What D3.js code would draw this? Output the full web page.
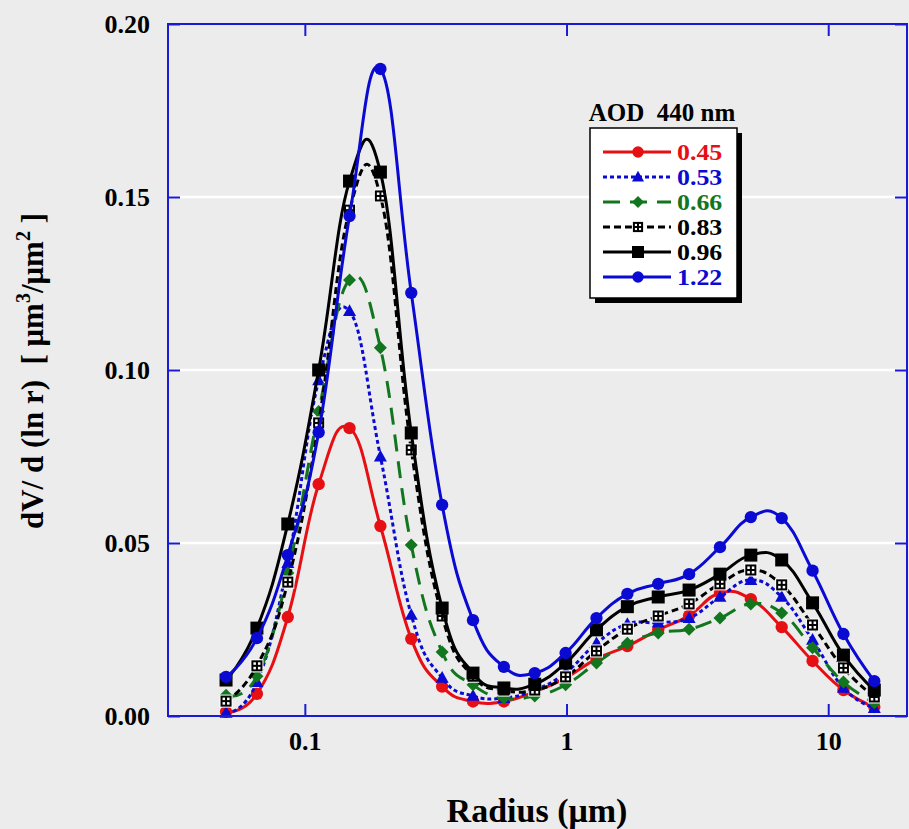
<!DOCTYPE html>
<html>
<head>
<meta charset="utf-8">
<script src="https://cdn.jsdelivr.net/npm/d3@7/dist/d3.min.js"></script>
<style>
  body { margin: 0; background: #ececec; }
  svg { display: block; }
  text { font-family: "Liberation Serif", "Times New Roman", serif; font-weight: bold; white-space: pre; }
</style>
</head>
<body>
<div id="chart"></div>
<script>
// AERONET size bins (um)
var radii = [0.05, 0.065604, 0.086077, 0.112939, 0.148184, 0.194429, 0.255105, 0.334716,
             0.439173, 0.576227, 0.756052, 0.991996, 1.301571, 1.707757, 2.240702, 2.939966,
             3.857452, 5.06126, 6.640745, 8.713145, 11.432287, 15.0];

var aodLabels = ["0.45", "0.53", "0.66", "0.83", "0.96", "1.22"];

var v045 = [0.0012, 0.0064, 0.0286, 0.067, 0.0832, 0.0549, 0.0223, 0.0085, 0.0042, 0.0042, 0.007,
            0.011, 0.0165, 0.0202, 0.0249, 0.029, 0.0356, 0.0338, 0.0257, 0.0159, 0.0075, 0.0026];
var v053 = [0.0009, 0.0098, 0.0442, 0.097, 0.117, 0.075, 0.0292, 0.011, 0.0058, 0.0052, 0.0075,
            0.0125, 0.021, 0.0266, 0.027, 0.0283, 0.0344, 0.0393, 0.0344, 0.022, 0.0081, 0.0023];
var v066 = [0.006, 0.0115, 0.0413, 0.088, 0.126, 0.1064, 0.0494, 0.0185, 0.009, 0.0052, 0.0058,
            0.009, 0.0153, 0.021, 0.024, 0.0251, 0.0283, 0.0324, 0.0298, 0.0197, 0.0098, 0.0038];
var v083 = [0.0043, 0.0145, 0.0387, 0.0847, 0.1462, 0.1503, 0.0769, 0.0289, 0.0115, 0.0075, 0.0075,
            0.0113, 0.0188, 0.0251, 0.0289, 0.0324, 0.0382, 0.0422, 0.0379, 0.0263, 0.0139, 0.0055];
var v096 = [0.0104, 0.0254, 0.0555, 0.1, 0.1546, 0.1572, 0.0818, 0.0312, 0.0124, 0.0081, 0.0092,
            0.0153, 0.0249, 0.0316, 0.0344, 0.0364, 0.041, 0.0465, 0.0451, 0.0327, 0.0176, 0.0075];
var v122 = [0.0113, 0.0225, 0.0465, 0.082, 0.1445, 0.187, 0.1223, 0.061, 0.0277, 0.0142, 0.0124,
            0.0182, 0.0283, 0.0353, 0.0382, 0.041, 0.0488, 0.0575, 0.0572, 0.042, 0.0237, 0.0101];

var xTicks = [0.1, 1, 10];
var yTicks = [0, 0.05, 0.10, 0.15, 0.20];

var W = 909, H = 829;
var m = {left: 168, right: 2, top: 24, bottom: 113};

var series = [
  {label: aodLabels[0], values: v045, color: "#e60f14", dash: null,    marker: "circle"},
  {label: aodLabels[1], values: v053, color: "#0a0ad2", dash: "4,3",   marker: "triangle"},
  {label: aodLabels[2], values: v066, color: "#12761e", dash: "17,10", marker: "diamond"},
  {label: aodLabels[3], values: v083, color: "#000000", dash: "7,4",   marker: "opensquare"},
  {label: aodLabels[4], values: v096, color: "#000000", dash: null,    marker: "square"},
  {label: aodLabels[5], values: v122, color: "#0a0ad2", dash: null,    marker: "circle"}
];
var axisColor = "#1a1ad6";

var svg = d3.select("#chart").append("svg")
  .attr("width", W).attr("height", H);

svg.append("rect").attr("width", W).attr("height", H).attr("fill", "#ececec");

var x = d3.scaleLog().domain([0.03, 20]).range([m.left, W - m.right]);
var y = d3.scaleLinear().domain([0, 0.2]).range([H - m.bottom, m.top]);

// gridlines
svg.append("g").selectAll("line")
  .data(yTicks.filter(function(d){ return d > 0 && d < 0.2; }))
  .enter().append("line")
  .attr("x1", x.range()[0]).attr("x2", x.range()[1])
  .attr("y1", function(d){ return y(d); }).attr("y2", function(d){ return y(d); })
  .attr("stroke", "#ffffff").attr("stroke-width", 2.5);

// markers
function drawMarker(g, type, color, cx, cy, s) {
  if (type === "circle") {
    g.append("circle").attr("cx", cx).attr("cy", cy).attr("r", s * 0.95).attr("fill", color);
  } else if (type === "triangle") {
    g.append("path")
      .attr("d", "M" + cx + "," + (cy - s * 1.05) + "L" + (cx + s) + "," + (cy + s * 0.75) + "L" + (cx - s) + "," + (cy + s * 0.75) + "Z")
      .attr("fill", color);
  } else if (type === "diamond") {
    g.append("path")
      .attr("d", "M" + cx + "," + (cy - s) + "L" + (cx + s) + "," + cy + "L" + cx + "," + (cy + s) + "L" + (cx - s) + "," + cy + "Z")
      .attr("fill", color);
  } else if (type === "square") {
    g.append("rect").attr("x", cx - s).attr("y", cy - s).attr("width", 2 * s).attr("height", 2 * s).attr("fill", color);
  } else if (type === "opensquare") {
    var h = s * 0.85;
    g.append("rect").attr("x", cx - h - 1).attr("y", cy - h - 1).attr("width", 2 * h + 2).attr("height", 2 * h + 2).attr("fill", "#ffffff");
    g.append("rect").attr("x", cx - h + 1).attr("y", cy - h + 1).attr("width", 2 * h - 2).attr("height", 2 * h - 2)
      .attr("fill", "#ffffff").attr("stroke", color).attr("stroke-width", 2);
    g.append("line").attr("x1", cx).attr("x2", cx).attr("y1", cy - h + 1).attr("y2", cy + h - 1).attr("stroke", color).attr("stroke-width", 2);
    g.append("line").attr("x1", cx - h + 1).attr("x2", cx + h - 1).attr("y1", cy).attr("y2", cy).attr("stroke", color).attr("stroke-width", 2);
  }
}

var line = d3.line()
  .x(function(d){ return x(d[0]); })
  .y(function(d){ return y(d[1]); })
  .curve(d3.curveCardinal.tension(-0.3));

var plot = svg.append("g");
series.forEach(function(s) {
  var pts = radii.map(function(r, i){ return [r, s.values[i]]; });
  var g = plot.append("g");
  g.append("path").datum(pts)
    .attr("d", line)
    .attr("fill", "none")
    .attr("stroke", s.color)
    .attr("stroke-width", 3)
    .attr("stroke-dasharray", s.dash);
  pts.forEach(function(p) {
    drawMarker(g, s.marker, s.color, x(p[0]), y(p[1]), 6.5);
  });
});

// frame
var x0 = x.range()[0], x1 = x.range()[1], y0 = y.range()[0], y1 = y.range()[1];
svg.append("rect")
  .attr("x", x0).attr("y", y1).attr("width", x1 - x0).attr("height", y0 - y1)
  .attr("fill", "none").attr("stroke", axisColor).attr("stroke-width", 2);

// axes with inner ticks
var axB = d3.axisBottom(x).tickValues(xTicks).tickSize(-12).tickPadding(16).tickFormat(d3.format("~g"));
var axT = d3.axisTop(x).tickValues(xTicks).tickSize(-12).tickFormat("");
var axL = d3.axisLeft(y).tickValues(yTicks).tickSize(-12).tickPadding(18).tickFormat(d3.format(".2f"));
var axR = d3.axisRight(y).tickValues(yTicks).tickSize(-12).tickFormat("");

function styleAxis(g) {
  g.select(".domain").remove();
  g.selectAll(".tick line").attr("stroke", axisColor).attr("stroke-width", 2);
  g.selectAll(".tick text").attr("fill", "#000").style("font-size", "26px")
    .style("font-family", "'Liberation Serif', serif").style("font-weight", "bold");
}
svg.append("g").attr("transform", "translate(0," + y0 + ")").call(axB).call(styleAxis);
svg.append("g").attr("transform", "translate(0," + y1 + ")").call(axT).call(styleAxis);
svg.append("g").attr("transform", "translate(" + x0 + ",0)").call(axL).call(styleAxis);
svg.append("g").attr("transform", "translate(" + x1 + ",0)").call(axR).call(styleAxis);

// axis titles
svg.append("text")
  .attr("x", 537).attr("y", 822)
  .attr("text-anchor", "middle")
  .style("font-size", "34px")
  .text("Radius (\u03bcm)");

var yt = svg.append("text")
  .attr("transform", "translate(43,371) rotate(-90)")
  .attr("text-anchor", "middle")
  .style("font-size", "31px");
yt.append("tspan").text("dV/ d (ln r)  [ \u03bcm");
yt.append("tspan").attr("dy", -13).style("font-size", "20px").text("3");
yt.append("tspan").attr("dy", 13).text("/\u03bcm");
yt.append("tspan").attr("dy", -13).style("font-size", "20px").text("2");
yt.append("tspan").attr("dy", 13).text(" ]");

// legend
var lg = svg.append("g");
lg.append("text").attr("x", 662).attr("y", 121).attr("text-anchor", "middle")
  .style("font-size", "25px").text("AOD  440 nm");
lg.append("rect").attr("x", 595).attr("y", 133).attr("width", 147).attr("height", 170).attr("fill", "#000");
lg.append("rect").attr("x", 590).attr("y", 128).attr("width", 147).attr("height", 170)
  .attr("fill", "#ffffff").attr("stroke", "#000").attr("stroke-width", 1.5);

series.forEach(function(s, i) {
  var cy = 152 + i * 25;
  lg.append("line").attr("x1", 603).attr("x2", 671).attr("y1", cy).attr("y2", cy)
    .attr("stroke", s.color).attr("stroke-width", 3).attr("stroke-dasharray", s.dash);
  drawMarker(lg, s.marker, s.color, 638, cy, 6);
  lg.append("g").attr("transform", "translate(677," + (cy + 8) + ") scale(1.15,1)")
    .append("text")
    .attr("fill", s.color).style("font-size", "22.5px").text(s.label);
});
</script>
</body>
</html>
